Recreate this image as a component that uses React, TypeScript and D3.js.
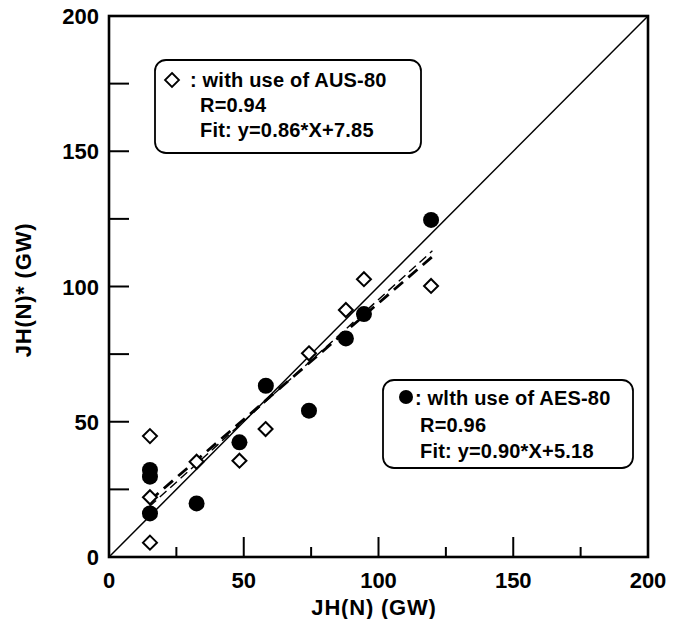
import React from "react";
import * as d3 from "d3";

const ausX = [15.2, 15.2, 15.2, 32.5, 48.4, 58.1, 74.2, 87.9, 94.6, 119.5];
const ausY = [44.7, 22.1, 5.3, 35.2, 35.6, 47.3, 75.3, 91.3, 102.7, 100.2];
const aesX = [15.2, 15.2, 15.2, 32.5, 48.4, 58.2, 74.2, 87.9, 94.6, 119.5];
const aesY = [32.2, 29.7, 16.1, 19.8, 42.4, 63.3, 54.1, 80.8, 89.8, 124.6];
const ausFit = { slope: 0.86, intercept: 7.85, x0: 15, x1: 120 };
const aesFit = { slope: 0.9, intercept: 5.18, x0: 15, x1: 120 };
const majorTicks = [0, 50, 100, 150, 200];
const minorTicks = [25, 75, 125, 175];
const ausLegend = [": with use of AUS-80", "R=0.94", "Fit: y=0.86*X+7.85"];
const aesLegend = [": wlth use of AES-80", "R=0.96", "Fit: y=0.90*X+5.18"];

const W = 679, H = 619;
const font = "'Liberation Sans', Arial, Helvetica, sans-serif";

export default function App() {
  const x = d3.scaleLinear().domain([0, 200]).range([109, 648]);
  const y = d3.scaleLinear().domain([0, 200]).range([557, 16]);
  const line = d3.line<[number, number]>().x(d => x(d[0])).y(d => y(d[1]));
  const fitPts = (f: typeof ausFit): [number, number][] => [
    [f.x0, f.slope * f.x0 + f.intercept],
    [f.x1, f.slope * f.x1 + f.intercept],
  ];
  const ds = 7;
  return (
    <svg width={W} height={H} style={{ position: "absolute", left: 0, top: 0, background: "#fff" }}
      fontFamily={font} fontWeight="bold">
      <rect x={0} y={0} width={W} height={H} fill="#fff" />
      {/* diagonal */}
      <path d={line([[0, 0], [200, 200]]) || ""} stroke="#000" strokeWidth={1.5} fill="none" />
      <path d={line(fitPts(ausFit)) || ""} stroke="#000" strokeWidth={2.8} strokeDasharray="12,7" fill="none" />
      <path d={line(fitPts(aesFit)) || ""} stroke="#000" strokeWidth={1.4} strokeDasharray="9,5" fill="none" />
      {/* frame */}
      <rect x={x(0)} y={y(200)} width={x(200) - x(0)} height={y(0) - y(200)} fill="none" stroke="#000" strokeWidth={2.6} />
      {/* ticks */}
      {majorTicks.map(t => (
        <g key={"mx" + t}>
          <line x1={x(t)} x2={x(t)} y1={y(0)} y2={y(0) - 20} stroke="#000" strokeWidth={2} />
          <line x1={x(0)} x2={x(0) + 20} y1={y(t)} y2={y(t)} stroke="#000" strokeWidth={2} />
          <text x={x(t)} y={588} textAnchor="middle" fontSize={22}>{t}</text>
          <text x={99} y={y(t) + 8} textAnchor="end" fontSize={22}>{t}</text>
        </g>
      ))}
      {minorTicks.map(t => (
        <g key={"mn" + t}>
          <line x1={x(t)} x2={x(t)} y1={y(0)} y2={y(0) - 10} stroke="#000" strokeWidth={2} />
          <line x1={x(0)} x2={x(0) + 20} y1={y(t)} y2={y(t)} stroke="#000" strokeWidth={2} />
        </g>
      ))}
      {/* axis titles */}
      <text x={374} y={615} textAnchor="middle" fontSize={22} letterSpacing={0.8}>JH(N) (GW)</text>
      <text transform="translate(31,290) rotate(-90)" textAnchor="middle" fontSize={22} letterSpacing={0.8}>JH(N)* (GW)</text>
      {/* points */}
      {ausX.map((v, i) => (
        <path key={"a" + i}
          d={`M${x(v)},${y(ausY[i]) - ds}L${x(v) + ds},${y(ausY[i])}L${x(v)},${y(ausY[i]) + ds}L${x(v) - ds},${y(ausY[i])}Z`}
          fill="#fff" stroke="#000" strokeWidth={2} />
      ))}
      {aesX.map((v, i) => (
        <circle key={"e" + i} cx={x(v)} cy={y(aesY[i])} r={8} fill="#000" />
      ))}
      {/* legend 1 */}
      <rect x={155} y={60} width={266} height={93} rx={11} fill="#fff" stroke="#000" strokeWidth={1.8} />
      <path d="M172,73L179,80L172,87L165,80Z" fill="#fff" stroke="#000" strokeWidth={1.8} />
      <text x={190} y={87} fontSize={20} letterSpacing={0.2}>{ausLegend[0]}</text>
      <text x={200} y={112} fontSize={20} letterSpacing={0.2}>{ausLegend[1]}</text>
      <text x={200} y={137} fontSize={20} letterSpacing={0.2}>{ausLegend[2]}</text>
      {/* legend 2 */}
      <rect x={383} y={380} width={250} height={88} rx={11} fill="#fff" stroke="#000" strokeWidth={1.8} />
      <circle cx={406} cy={397} r={7} fill="#000" />
      <text x={415} y={405} fontSize={20} letterSpacing={0.2}>{aesLegend[0]}</text>
      <text x={420} y={432} fontSize={20} letterSpacing={0.2}>{aesLegend[1]}</text>
      <text x={420} y={458} fontSize={20} letterSpacing={0.2}>{aesLegend[2]}</text>
    </svg>
  );
}
